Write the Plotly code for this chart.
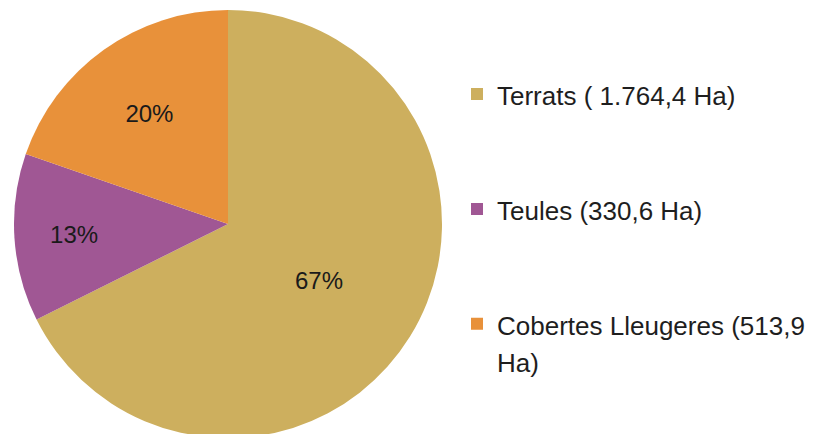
import plotly.graph_objects as go

categories = ["Terrats ( 1.764,4 Ha)", "Teules (330,6 Ha)", "Cobertes Lleugeres (513,9<br>Ha)"]
hectares = [1764.4, 330.6, 513.9]
pct_labels = ["67%", "13%", "20%"]
colors = ["#CDAF5E", "#A05794", "#E8913A"]

W, H = 813, 434
OFF = 8  # page body margin
FONT = "Arial, Liberation Sans, sans-serif"

# legend labels padded with blank lines to reproduce the wide spacing
legend_labels = []
for c in categories:
    parts = c.split("<br>")
    body = "<br>".join('<span style="font-size:26px">%s</span>' % p for p in parts)
    if len(parts) == 1:
        legend_labels.append("&nbsp;<br>" + body + "<br>&nbsp;")
    else:
        legend_labels.append("&nbsp;<br>" + body)

fig = go.Figure(go.Pie(
    labels=legend_labels,
    values=hectares,
    text=pct_labels,
    textinfo="text",
    textposition="inside",
    insidetextorientation="horizontal",
    textfont=dict(family=FONT, size=24, color="#1a1a1a"),
    marker=dict(colors=colors, line=dict(width=0)),
    sort=False,
    direction="clockwise",
    rotation=0,
    hoverinfo="label+percent",
    domain=dict(x=[(14 - OFF) / W, (442 - OFF) / W],
                y=[1 - (438 - OFF) / H, 1 - (10 - OFF) / H]),
))

fig.update_layout(
    width=W, height=H,
    margin=dict(l=0, r=0, t=0, b=0),
    paper_bgcolor="white",
    plot_bgcolor="white",
    showlegend=True,
    legend=dict(
        x=(497 - 40 - OFF) / W, xanchor="left",
        y=1 - (209 - OFF) / H, yanchor="middle",
        font=dict(family=FONT, size=28.7, color="#1e1e1e"),
        bgcolor="rgba(0,0,0,0)",
        borderwidth=0,
    ),
)

fig.write_html("out.html")
